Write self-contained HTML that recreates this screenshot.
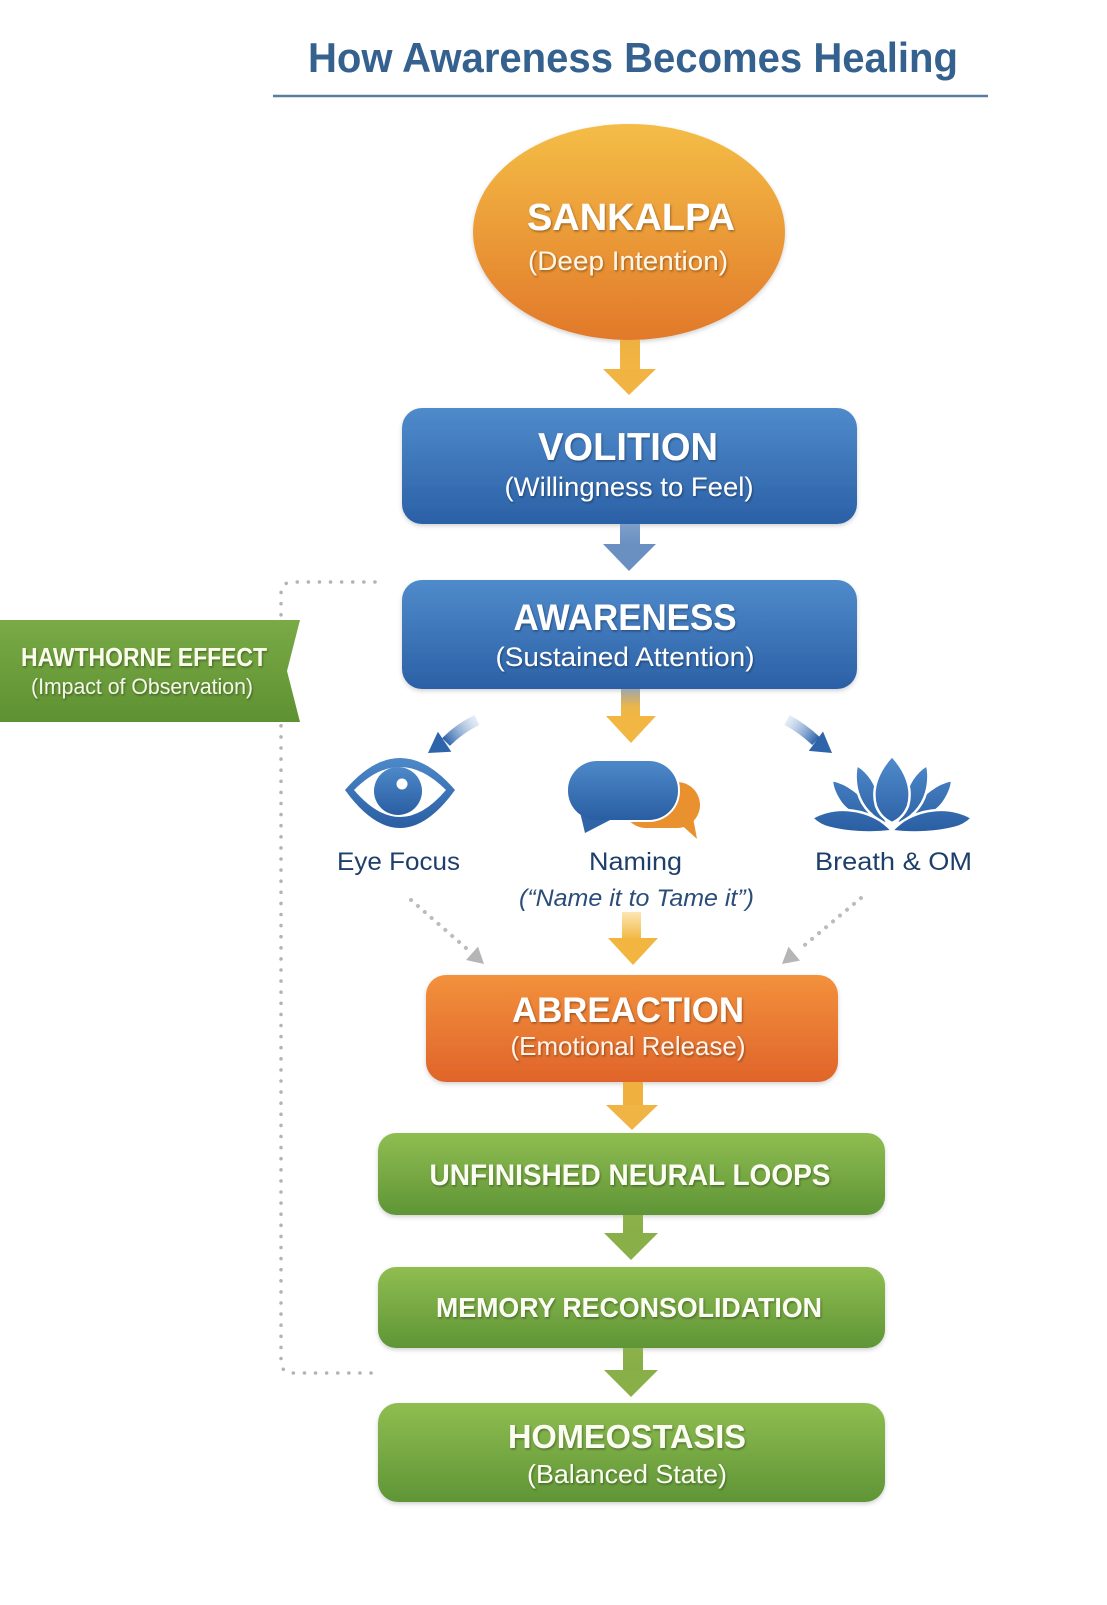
<!DOCTYPE html>
<html>
<head>
<meta charset="utf-8">
<style>
html,body{margin:0;padding:0;background:#ffffff;}
svg{display:block;}
text{font-family:"Liberation Sans", sans-serif;}
</style>
</head>
<body>
<svg width="1107" height="1605" viewBox="0 0 1107 1605" xmlns="http://www.w3.org/2000/svg">
<defs>
  <linearGradient id="gOrangeEll" x1="0" y1="0" x2="0" y2="1">
    <stop offset="0" stop-color="#f4bd46"/>
    <stop offset="1" stop-color="#e2792a"/>
  </linearGradient>
  <linearGradient id="gBlue" x1="0" y1="0" x2="0" y2="1">
    <stop offset="0" stop-color="#4f8bcb"/>
    <stop offset="1" stop-color="#2b60a6"/>
  </linearGradient>
  <linearGradient id="gAbre" x1="0" y1="0" x2="0" y2="1">
    <stop offset="0" stop-color="#f2913c"/>
    <stop offset="1" stop-color="#e0642a"/>
  </linearGradient>
  <linearGradient id="gGreen" x1="0" y1="0" x2="0" y2="1">
    <stop offset="0" stop-color="#8fbd51"/>
    <stop offset="1" stop-color="#5f9536"/>
  </linearGradient>
  <linearGradient id="gBanner" x1="0" y1="0" x2="0" y2="1">
    <stop offset="0" stop-color="#79aa46"/>
    <stop offset="1" stop-color="#5e9132"/>
  </linearGradient>
  <linearGradient id="gYArrow" x1="0" y1="0" x2="0" y2="1">
    <stop offset="0" stop-color="#eeb040"/>
    <stop offset="1" stop-color="#f3b746"/>
  </linearGradient>
  <linearGradient id="gBArrow" x1="0" y1="0" x2="0" y2="1">
    <stop offset="0" stop-color="#7d9fc8"/>
    <stop offset="1" stop-color="#6a90c2"/>
  </linearGradient>
  <linearGradient id="gGYArrow" x1="0" y1="0" x2="0" y2="1">
    <stop offset="0" stop-color="#9ea6ae"/>
    <stop offset="0.6" stop-color="#e9b54c"/>
    <stop offset="1" stop-color="#f2b743"/>
  </linearGradient>
  <linearGradient id="gLYArrow" x1="0" y1="0" x2="0" y2="1">
    <stop offset="0" stop-color="#fbe7b4"/>
    <stop offset="1" stop-color="#f2b640"/>
  </linearGradient>
  <linearGradient id="gGArrow" x1="0" y1="0" x2="0" y2="1">
    <stop offset="0" stop-color="#8db24c"/>
    <stop offset="1" stop-color="#86ad46"/>
  </linearGradient>
  <linearGradient id="gDiagL" x1="477" y1="720" x2="446" y2="742" gradientUnits="userSpaceOnUse">
    <stop offset="0" stop-color="#a9c3e2" stop-opacity="0.3"/>
    <stop offset="1" stop-color="#2e64aa"/>
  </linearGradient>
  <linearGradient id="gDiagR" x1="787" y1="720" x2="816" y2="741" gradientUnits="userSpaceOnUse">
    <stop offset="0" stop-color="#a9c3e2" stop-opacity="0.3"/>
    <stop offset="1" stop-color="#2e64aa"/>
  </linearGradient>
  <linearGradient id="gIcon" x1="0" y1="0" x2="0" y2="1">
    <stop offset="0" stop-color="#4d89c9"/>
    <stop offset="1" stop-color="#2a5ea3"/>
  </linearGradient>
  <linearGradient id="gLotus" x1="0" y1="757" x2="0" y2="832" gradientUnits="userSpaceOnUse">
    <stop offset="0" stop-color="#4f8bcb"/>
    <stop offset="1" stop-color="#2a5ea3"/>
  </linearGradient>
  <filter id="ts" x="-10%" y="-30%" width="120%" height="160%">
    <feDropShadow dx="1" dy="1.5" stdDeviation="1" flood-color="#000" flood-opacity="0.35"/>
  </filter>
  <filter id="bs" x="-5%" y="-10%" width="110%" height="125%">
    <feDropShadow dx="0" dy="2" stdDeviation="2" flood-color="#000" flood-opacity="0.18"/>
  </filter>
</defs>

<!-- Title -->
<text x="308" y="72" font-size="42" font-weight="bold" fill="#35618f" textLength="650" lengthAdjust="spacingAndGlyphs">How Awareness Becomes Healing</text>
<line x1="273" y1="96" x2="988" y2="96" stroke="#5a7ca0" stroke-width="2.5"/>

<!-- Dotted feedback line -->
<path d="M375,582 L293,582 Q281,582 281,594 L281,1361 Q281,1373 293,1373 L377,1373" fill="none" stroke="#b3b3b3" stroke-width="3.5" stroke-linecap="round" stroke-dasharray="0.1 11"/>

<!-- SANKALPA -->
<ellipse cx="629" cy="232" rx="156" ry="108" fill="url(#gOrangeEll)" filter="url(#bs)"/>
<g filter="url(#ts)" fill="#ffffff">
<text x="631" y="230" font-size="38" font-weight="bold" text-anchor="middle" textLength="208" lengthAdjust="spacingAndGlyphs">SANKALPA</text>
<text x="628" y="270" font-size="27" text-anchor="middle" fill="#fff6e6" textLength="200" lengthAdjust="spacingAndGlyphs">(Deep Intention)</text>
</g>

<!-- Arrow 1 -->
<rect x="620" y="340" width="20" height="30" fill="url(#gYArrow)"/>
<polygon points="603,369 656,369 629,395" fill="#f1b443"/>

<!-- VOLITION -->
<rect x="402" y="408" width="455" height="116" rx="20" fill="url(#gBlue)" filter="url(#bs)"/>
<g filter="url(#ts)" fill="#ffffff">
<text x="628" y="460" font-size="39" font-weight="bold" text-anchor="middle" textLength="180" lengthAdjust="spacingAndGlyphs">VOLITION</text>
<text x="629" y="496" font-size="27" text-anchor="middle" textLength="249" lengthAdjust="spacingAndGlyphs">(Willingness to Feel)</text>
</g>

<!-- Arrow 2 -->
<rect x="620" y="524" width="20" height="21" fill="url(#gBArrow)"/>
<polygon points="603,544 656,544 629,571" fill="#6a90c2"/>

<!-- AWARENESS -->
<rect x="402" y="580" width="455" height="109" rx="20" fill="url(#gBlue)" filter="url(#bs)"/>
<g filter="url(#ts)" fill="#ffffff">
<text x="625" y="630" font-size="37" font-weight="bold" text-anchor="middle" textLength="223" lengthAdjust="spacingAndGlyphs">AWARENESS</text>
<text x="625" y="666" font-size="27" text-anchor="middle" textLength="259" lengthAdjust="spacingAndGlyphs">(Sustained Attention)</text>
</g>

<!-- Hawthorne banner -->
<polygon points="0,620 300,620 287,671 300,722 0,722" fill="url(#gBanner)"/>
<g filter="url(#ts)">
<text x="21" y="666" font-size="26" font-weight="bold" fill="#fbfbea" textLength="246" lengthAdjust="spacingAndGlyphs">HAWTHORNE EFFECT</text>
<text x="31" y="694" font-size="22" fill="#f4f6e6" textLength="222" lengthAdjust="spacingAndGlyphs">(Impact of Observation)</text>
</g>

<!-- Center arrow from awareness -->
<rect x="621" y="689" width="19" height="28" fill="url(#gGYArrow)"/>
<polygon points="606,716 656,716 631,743" fill="#f2b743"/>

<!-- Left diagonal arrow -->
<path d="M477,720 Q460,728 446,742" fill="none" stroke="url(#gDiagL)" stroke-width="11"/>
<polygon points="428,753 437.9,731.8 451.3,751.8" fill="#2e64aa"/>

<!-- Right diagonal arrow -->
<path d="M787,720 Q802,728 816,741" fill="none" stroke="url(#gDiagR)" stroke-width="11"/>
<polygon points="832,753 823,731.5 808.8,750.9" fill="#2e64aa"/>

<!-- Eye icon -->
<path d="M345,790 Q400,726 455,790 Q400,866 345,790 Z" fill="url(#gIcon)"/>
<path d="M354,790 Q400,744 446,790 Q400,844 354,790 Z" fill="#ffffff"/>
<circle cx="398" cy="791" r="24" fill="url(#gIcon)"/>
<circle cx="402" cy="784" r="5.5" fill="#ffffff"/>

<!-- Speech bubbles -->
<rect x="623" y="782" width="77" height="46" rx="23" fill="#e8912e"/>
<polygon points="676,820 697,839 692,812" fill="#e8912e"/>
<rect x="566" y="759" width="114" height="63" rx="31" fill="#ffffff"/>
<polygon points="579,808 585,833 614,818" fill="#2f64a8"/>
<rect x="568" y="761" width="110" height="59" rx="29" fill="url(#gIcon)"/>

<!-- Lotus -->
<g fill="url(#gLotus)" stroke="#ffffff" stroke-width="2.5" stroke-linejoin="round">
<path d="M832,780 C848,783 862,795 871,808 C876,815 881,820 886,826 C864,822 846,812 839,800 C834,792 832,786 832,780 Z"/>
<path d="M952,780 C936,783 922,795 913,808 C908,815 903,820 898,826 C920,822 938,812 945,800 C950,792 952,786 952,780 Z"/>
<path d="M857,765 C869,772 877,785 879,799 C880,810 884,818 889,825 C873,819 862,807 858,793 C855,783 855,772 857,765 Z"/>
<path d="M927,765 C915,772 907,785 905,799 C904,810 900,818 895,825 C911,819 922,807 926,793 C929,783 929,772 927,765 Z"/>
<path d="M892,756 C906,771 913,789 908,806 C904,816 898,820 892,823 C886,820 880,816 876,806 C871,789 878,771 892,756 Z"/>
<path d="M812,818 C835,805 862,809 881,821 C886,825 890,828 892,831 C870,834 845,832 830,828 C821,826 816,822 812,818 Z"/>
<path d="M972,818 C949,805 922,809 903,821 C898,825 894,828 892,831 C914,834 939,832 954,828 C963,826 968,822 972,818 Z"/>
</g>

<!-- Icon labels -->
<text x="337" y="870" font-size="25" fill="#1f3f6b" textLength="123" lengthAdjust="spacingAndGlyphs">Eye Focus</text>
<text x="589" y="870" font-size="25" fill="#1f3f6b" textLength="93" lengthAdjust="spacingAndGlyphs">Naming</text>
<text x="815" y="870" font-size="25" fill="#1f3f6b" textLength="157" lengthAdjust="spacingAndGlyphs">Breath &amp; OM</text>
<text x="519" y="906" font-size="24" font-style="italic" fill="#2a4d7a" textLength="235" lengthAdjust="spacingAndGlyphs">(“Name it to Tame it”)</text>

<!-- Dotted gray arrows -->
<line x1="411" y1="900" x2="466" y2="948" stroke="#bcbcbc" stroke-width="4" stroke-linecap="round" stroke-dasharray="0.1 9"/>
<polygon points="484,964 466,960 478,946.6" fill="#b5b5b5"/>
<line x1="861" y1="898" x2="800" y2="949" stroke="#bcbcbc" stroke-width="4" stroke-linecap="round" stroke-dasharray="0.1 9"/>
<polygon points="782,964 788.5,946.8 800,960.6" fill="#b5b5b5"/>

<!-- Center arrow to abreaction -->
<rect x="622" y="912" width="19" height="28" fill="url(#gLYArrow)"/>
<polygon points="608,938 658,938 633,965" fill="#f2b640"/>

<!-- ABREACTION -->
<rect x="426" y="975" width="412" height="107" rx="20" fill="url(#gAbre)" filter="url(#bs)"/>
<g filter="url(#ts)" fill="#ffffff">
<text x="628" y="1022" font-size="35" font-weight="bold" text-anchor="middle" textLength="232" lengthAdjust="spacingAndGlyphs">ABREACTION</text>
<text x="628" y="1055" font-size="26" text-anchor="middle" fill="#fff3e8" textLength="235" lengthAdjust="spacingAndGlyphs">(Emotional Release)</text>
</g>

<!-- Arrow -->
<rect x="623" y="1082" width="20" height="24" fill="#f0b040"/>
<polygon points="606,1105 658,1105 632,1130" fill="#f0b444"/>

<!-- UNFINISHED NEURAL LOOPS -->
<rect x="378" y="1133" width="507" height="82" rx="18" fill="url(#gGreen)" filter="url(#bs)"/>
<text x="630" y="1185" font-size="30" font-weight="bold" text-anchor="middle" fill="#fbfdf2" filter="url(#ts)" textLength="401" lengthAdjust="spacingAndGlyphs">UNFINISHED NEURAL LOOPS</text>

<!-- Arrow -->
<rect x="623" y="1215" width="20" height="20" fill="url(#gGArrow)"/>
<polygon points="604,1233 658,1233 631,1260" fill="#88af48"/>

<!-- MEMORY RECONSOLIDATION -->
<rect x="378" y="1267" width="507" height="81" rx="18" fill="url(#gGreen)" filter="url(#bs)"/>
<text x="629" y="1317" font-size="28" font-weight="bold" text-anchor="middle" fill="#fbfdf2" filter="url(#ts)" textLength="386" lengthAdjust="spacingAndGlyphs">MEMORY RECONSOLIDATION</text>

<!-- Arrow -->
<rect x="623" y="1348" width="20" height="23" fill="url(#gGArrow)"/>
<polygon points="604,1370 658,1370 631,1397" fill="#88af48"/>

<!-- HOMEOSTASIS -->
<rect x="378" y="1403" width="507" height="99" rx="20" fill="url(#gGreen)" filter="url(#bs)"/>
<g filter="url(#ts)" fill="#fbfdf2">
<text x="627" y="1448" font-size="33" font-weight="bold" text-anchor="middle" textLength="238" lengthAdjust="spacingAndGlyphs">HOMEOSTASIS</text>
<text x="627" y="1483" font-size="26" text-anchor="middle" textLength="200" lengthAdjust="spacingAndGlyphs">(Balanced State)</text>
</g>
</svg>
</body>
</html>
